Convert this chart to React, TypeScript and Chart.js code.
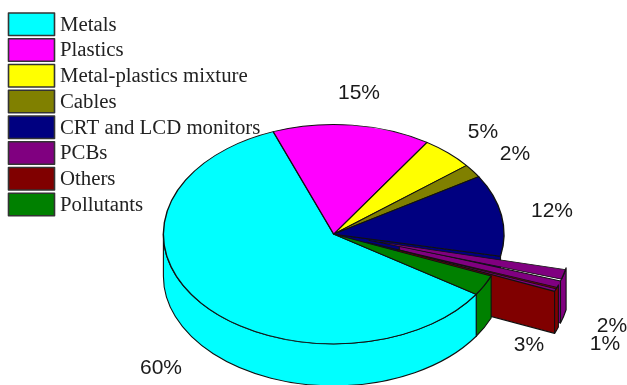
import { useEffect, useRef } from "react";
import { Chart, registerables } from "chart.js";

Chart.register(...registerables);

const categories = [
  "Metals",
  "Plastics",
  "Metal-plastics mixture",
  "Cables",
  "CRT and LCD monitors",
  "PCBs",
  "Others",
  "Pollutants",
];
const shares = [60, 15, 5, 2, 12, 2, 1, 3];
const sliceColors = [
  "#00ffff",
  "#ff00ff",
  "#ffff00",
  "#808000",
  "#000080",
  "#800080",
  "#800000",
  "#008000",
];

// Where the tilted disc sits on the canvas and how it is foreshortened.
const DISC = { x: 333.7, y: 234.2, radius: 170.3, squash: 0.644, depth: 42 };
const OUTLINE = "#111111";
const LABEL_FONT = "21px 'Liberation Sans'";
const LABEL_SPOTS = [
  [161, 368],
  [359, 93],
  [483, 132],
  [515, 154],
  [552, 211],
  [612, 326],
  [605, 344],
  [529, 345],
];
const KEY = {
  left: 8.5,
  top: 13,
  swatchWidth: 46,
  swatchHeight: 22.5,
  step: 25.75,
  textLeft: 60,
  textDrop: 1,
  font: "20.8px 'Liberation Serif'",
};
// This slice's curved side stays flat; only its cut face gets a wall.
const FLAT_RIM = categories.indexOf("CRT and LCD monitors");

// Chart.js pushes an arc out by this distance for a given offset option.
function explodeDistance(offset: number, circumference: number) {
  const base = offset / 4;
  return base + base * (1 - Math.sin(Math.min(Math.PI, circumference)));
}

function drawWalls(chart: any) {
  const ctx: CanvasRenderingContext2D = chart.ctx;
  const arcs = chart.getDatasetMeta(0).data;
  const { squash, depth } = DISC;
  const drop = depth / squash;
  // Back slices first, the big front slice last.
  const order = [1, 2, 3, 4, 5, 6, 7, 0];

  const paint = (color: string, trace: () => void) => {
    ctx.save();
    ctx.translate(DISC.x, DISC.y);
    ctx.scale(1, squash);
    ctx.beginPath();
    trace();
    ctx.closePath();
    ctx.restore();
    ctx.fillStyle = color;
    ctx.fill();
    ctx.strokeStyle = OUTLINE;
    ctx.lineWidth = 1.1;
    ctx.lineJoin = "round";
    ctx.stroke();
  };

  for (const i of order) {
    const arc = arcs[i];
    const { startAngle, endAngle, outerRadius, circumference } = arc.getProps(
      ["startAngle", "endAngle", "outerRadius", "circumference"],
      true
    );
    const color = arc.options.backgroundColor;
    const mid = (startAngle + endAngle) / 2;
    const shift = explodeDistance(arc.options.offset || 0, circumference);
    const ox = Math.cos(mid) * shift;
    const oy = Math.sin(mid) * shift;

    // Cut face along the trailing edge of the slice, when it faces forward.
    if (Math.cos(endAngle) > 0) {
      const ex = ox + Math.cos(endAngle) * outerRadius;
      const ey = oy + Math.sin(endAngle) * outerRadius;
      paint(color, () => {
        ctx.moveTo(ox, oy);
        ctx.lineTo(ex, ey);
        ctx.lineTo(ex, ey + drop);
        ctx.lineTo(ox, oy + drop);
      });
    }

    if (i === FLAT_RIM) continue;

    // Curved rim, only over the near half of the circle.
    for (const turn of [0, 2 * Math.PI]) {
      const lo = Math.max(startAngle, turn);
      const hi = Math.min(endAngle, turn + Math.PI);
      if (hi > lo) {
        paint(color, () => {
          ctx.arc(ox, oy, outerRadius, lo, hi);
          ctx.arc(ox, oy + drop, outerRadius, hi, lo, true);
        });
      }
    }
  }
}

function drawKey(ctx: CanvasRenderingContext2D) {
  ctx.font = KEY.font;
  ctx.textAlign = "left";
  ctx.textBaseline = "middle";
  categories.forEach((name, i) => {
    const y = KEY.top + i * KEY.step;
    ctx.fillStyle = sliceColors[i];
    ctx.fillRect(KEY.left, y, KEY.swatchWidth, KEY.swatchHeight);
    ctx.strokeStyle = "#333333";
    ctx.lineWidth = 1.6;
    ctx.strokeRect(KEY.left, y, KEY.swatchWidth, KEY.swatchHeight);
    ctx.fillStyle = "#222222";
    ctx.fillText(name, KEY.textLeft, y + KEY.swatchHeight / 2 + KEY.textDrop);
  });
}

const tiltedDisc = {
  id: "tiltedDisc",
  beforeDatasetsDraw(chart: any) {
    drawWalls(chart);
    const arc = chart.getDatasetMeta(0).data[0];
    const ctx = chart.ctx;
    ctx.save();
    ctx.translate(DISC.x, DISC.y);
    ctx.scale(1, DISC.squash);
    ctx.translate(-arc.x, -arc.y);
  },
  afterDatasetsDraw(chart: any) {
    chart.ctx.restore();
  },
  afterDraw(chart: any) {
    const ctx = chart.ctx;
    ctx.save();
    drawKey(ctx);
    ctx.font = LABEL_FONT;
    ctx.fillStyle = "#1a1a1a";
    ctx.textAlign = "center";
    ctx.textBaseline = "middle";
    shares.forEach((share, i) => {
      ctx.fillText(`${share}%`, LABEL_SPOTS[i][0], LABEL_SPOTS[i][1]);
    });
    ctx.restore();
  },
};

export default function App() {
  const ref = useRef<HTMLCanvasElement>(null);

  useEffect(() => {
    const chart = new Chart(ref.current!, {
      type: "pie",
      data: {
        labels: categories,
        datasets: [
          {
            data: shares,
            backgroundColor: sliceColors,
            borderColor: OUTLINE,
            borderWidth: 1.4,
            offset: [0, 0, 0, 0, 0, 145, 140, 0],
          },
        ],
      },
      options: {
        animation: false,
        responsive: false,
        events: [],
        rotation: 123.2,
        radius: DISC.radius,
        layout: { padding: 0 },
        plugins: {
          tooltip: { enabled: false },
          legend: { display: false },
        },
      } as any,
      plugins: [tiltedDisc],
    });
    return () => chart.destroy();
  }, []);

  return (
    <canvas
      ref={ref}
      width={627}
      height={385}
      style={{ position: "absolute", left: 0, top: 0, display: "block" }}
    />
  );
}
